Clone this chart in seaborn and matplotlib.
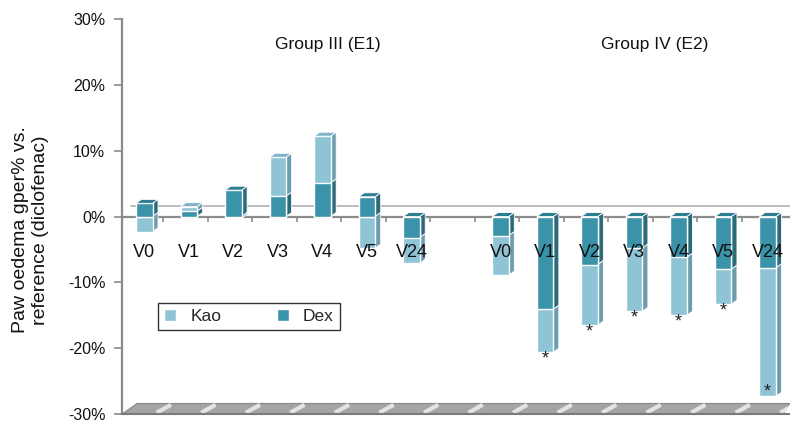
import numpy as np
import pandas as pd
import seaborn as sns
import matplotlib.pyplot as plt
from matplotlib.patches import Patch, Polygon

# --- data (values in % vs. reference) ---
visits = ['V0', 'V1', 'V2', 'V3', 'V4', 'V5', 'V24']
group_names = ['Group III (E1)', 'Group IV (E2)']
# Dex is the base segment, Kao is stacked on it
dex_e1 = [2.0, 0.8, 4.0, 3.1, 5.1, 3.0, -3.2]
kao_e1 = [-2.3, 0.7, -0.3, 5.9, 7.1, -4.8, -3.9]
dex_e2 = [-2.9, -14.1, -7.3, -4.8, -6.2, -8.0, -7.8]
kao_e2 = [-6.0, -6.5, -9.2, -9.6, -8.8, -5.3, -19.5]
signif_e2 = [False, True, True, True, True, True, True]

KAO = '#8fc4d7'
DEX = '#3a93a8'
KAO_SIDE = '#6c9cad'
DEX_SIDE = '#2a6a7a'
KAO_TOP = '#7fb3c5'
DEX_TOP = '#2d7d90'

sns.set_style('white')
plt.rcParams['font.family'] = ['Liberation Sans', 'DejaVu Sans']

# --- build table: one row per bar, with a blank slot between the groups ---
rows = []
for g, dex, kao in [('E1', dex_e1, kao_e1), ('E2', dex_e2, kao_e2)]:
    for v, d, k in zip(visits, dex, kao):
        rows.append({'slot': f'{g} {v}', 'visit': v, 'dex': d, 'kao': k})
df = pd.DataFrame(rows)
same_sign = np.sign(df['dex']) == np.sign(df['kao'])
df['kao_start'] = np.where(same_sign, df['dex'], 0.0)
df['kao_end'] = df['kao_start'] + df['kao']

order = [f'E1 {v}' for v in visits] + ['gap'] + [f'E2 {v}' for v in visits]
pos = {s: i for i, s in enumerate(order)}
df['x'] = df['slot'].map(pos)

fig = plt.figure(figsize=(7.9, 4.22), dpi=100)
ax = fig.add_axes([122 / 790, 8 / 422, 668 / 790, 395 / 422])

width = 0.37
sns.barplot(data=df, x='slot', y='kao_end', order=order, color=KAO, saturation=1,
            width=width, edgecolor='white', linewidth=1, zorder=3, ax=ax)
sns.barplot(data=df, x='slot', y='dex', order=order, color=DEX, saturation=1,
            width=width, edgecolor='white', linewidth=1, zorder=4, ax=ax)

# --- fake 3D: side and top faces ---
dx, dy = 0.124, 0.6
hw = width / 2
for _, r in df.iterrows():
    x = r['x']
    segs = [(0.0, r['dex'], DEX_SIDE), (r['kao_start'], r['kao_end'], KAO_SIDE)]
    for y0, y1, c in segs:
        if y0 == y1:
            continue
        side = Polygon([(x + hw, y0), (x + hw + dx, y0 + dy), (x + hw + dx, y1 + dy), (x + hw, y1)],
                       closed=True, facecolor=c, edgecolor='white', lw=0.6, zorder=2)
        ax.add_patch(side)
    ytop = max(0.0, r['dex'], r['kao_end'])
    top_c = KAO_TOP if (r['kao_end'] == ytop and r['kao_end'] > r['dex']) else DEX_TOP
    top = Polygon([(x - hw, ytop), (x - hw + dx, ytop + dy), (x + hw + dx, ytop + dy), (x + hw, ytop)],
                  closed=True, facecolor=top_c, edgecolor='white', lw=0.6, zorder=5)
    ax.add_patch(top)

# significance marks for group IV
for _, r in df[df['slot'].str.startswith('E2')].iterrows():
    if signif_e2[visits.index(r['visit'])]:
        ax.text(r['x'], max(r['kao_end'] - 1.0, -26.6), '*', ha='center', va='center',
                fontsize=13, color='#222222', zorder=6)

# visit labels inside the plot area
for _, r in df.iterrows():
    ax.text(r['x'], -5.4, r['visit'], ha='center', va='center', fontsize=13,
            color='#111111', zorder=7)

# group titles
ax.text(4.13, 26.2, group_names[0], ha='center', va='center', fontsize=12.5, color='#111111')
ax.text(11.47, 26.2, group_names[1], ha='center', va='center', fontsize=12.5, color='#111111')

# back wall zero line, front zero line with ticks
ax.plot([-0.3, 14.5], [1.66, 1.66], color='#b0b0b0', lw=1.2, zorder=1)
ax.axhline(0, color='#8c8c8c', lw=1.6, zorder=1)
bounds = np.arange(0.5, 14.5, 1.0) - 0.08
ax.vlines(bounds, -0.8, 0, color='#8c8c8c', lw=1.2, zorder=1)

# floor
floor = Polygon([(-0.5, -30), (-0.16, -28.4), (14.5, -28.4), (14.35, -30)], closed=True,
                facecolor='#a4a4a4', edgecolor='#8a8a8a', lw=0.8, zorder=2, clip_on=False)
ax.add_patch(floor)
for b in np.arange(0.4, 14.5, 1.0):
    ax.plot([b - 0.12, b + 0.2], [-29.8, -28.6], color='white', lw=3, alpha=0.7,
            solid_capstyle='butt', zorder=3)
ax.plot([-0.5, 14.5], [-30, -30], color='#7a7a7a', lw=1.5, zorder=3, clip_on=False)

ax.set_xlim(-0.5, 14.5)
ax.set_ylim(-30, 30)
ax.set_yticks(np.arange(-30, 31, 10))
ax.set_yticklabels([f'{t}%' for t in range(-30, 31, 10)])
ax.set_xticks([])
ax.set_xlabel('')
ax.set_ylabel('')
ax.tick_params(axis='y', left=True, length=6, width=1.2, color='#8a8a8a', labelsize=11.5,
               labelcolor='#111111', pad=6)
for s in ['top', 'right', 'bottom']:
    ax.spines[s].set_visible(False)
ax.spines['left'].set_color('#8a8a8a')
ax.spines['left'].set_linewidth(1.6)

fig.text(0.039, 0.455, 'Paw oedema gper% vs.\nreference (diclofenac)', rotation=90,
         ha='center', va='center', fontsize=14, linespacing=1.25, color='#111111')

handles = [Patch(facecolor=KAO, label='Kao'), Patch(facecolor=DEX, label='Dex')]
leg = ax.legend(handles=handles, loc='center', bbox_to_anchor=(0.19, 0.246), ncol=2,
                frameon=True, fancybox=False, edgecolor='black', fontsize=12.5,
                handlelength=0.7, handleheight=0.7, columnspacing=3.2, borderpad=0.35,
                handletextpad=0.8)
leg.get_frame().set_linewidth(1.0)

fig.savefig('out.png', dpi=100)
